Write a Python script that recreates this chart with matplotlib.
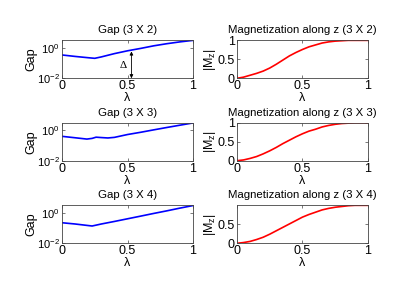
import matplotlib
matplotlib.use('Agg')
import matplotlib.pyplot as plt

plt.rcParams['font.family'] = ['Liberation Sans', 'DejaVu Sans']
plt.rcParams['mathtext.fontset'] = 'custom'
plt.rcParams['mathtext.rm'] = 'Liberation Sans'
plt.rcParams['font.size'] = 9

# lambda values where the curves were read
lam_gap2 = [0, 0.1, 0.2, 0.25, 0.3, 0.4, 0.5, 0.6, 0.7, 0.8, 0.9, 1.0]
gap2 = [0.35, 0.28, 0.23, 0.21, 0.26, 0.43, 0.66, 0.95, 1.41, 1.95, 2.57, 3.24]

lam_gap3 = [0, 0.1, 0.19, 0.23, 0.26, 0.3, 0.35, 0.4, 0.5, 0.6, 0.7, 0.8, 0.9, 1.0]
gap3 = [0.41, 0.33, 0.27, 0.30, 0.36, 0.34, 0.32, 0.35, 0.54, 0.76, 1.10, 1.58, 2.24, 3.16]

lam_gap4 = [0, 0.1, 0.2, 0.23, 0.3, 0.4, 0.5, 0.6, 0.7, 0.8, 0.9, 1.0]
gap4 = [0.23, 0.19, 0.15, 0.14, 0.19, 0.28, 0.42, 0.63, 0.95, 1.41, 2.14, 3.16]

lam_mag = [0, 0.05, 0.1, 0.15, 0.2, 0.25, 0.3, 0.35, 0.4, 0.45, 0.5, 0.55, 0.6, 0.65,
           0.7, 0.75, 0.8, 0.85, 0.9, 0.95, 1.0]
mag2 = [0, 0.03, 0.08, 0.13, 0.19, 0.27, 0.37, 0.48, 0.59, 0.68, 0.76, 0.83, 0.88, 0.93,
        0.96, 0.98, 0.99, 1.0, 1.0, 1.0, 1.0]
mag3 = [0, 0.02, 0.06, 0.11, 0.18, 0.26, 0.35, 0.45, 0.54, 0.63, 0.71, 0.78, 0.83, 0.89,
        0.93, 0.96, 0.98, 0.99, 1.0, 1.0, 1.0]
mag4 = [0, 0.02, 0.05, 0.10, 0.16, 0.24, 0.33, 0.42, 0.51, 0.60, 0.69, 0.76, 0.82, 0.88,
        0.92, 0.95, 0.97, 0.99, 1.0, 1.0, 1.0]

sizes = ['3 X 2', '3 X 3', '3 X 4']
gap_lams = [lam_gap2, lam_gap3, lam_gap4]
gaps = [gap2, gap3, gap4]
mags = [mag2, mag3, mag4]

fig = plt.figure(figsize=(4.15, 2.94), dpi=100)

bottoms = [0.7337, 0.4534, 0.1724]
h = 0.129
w = 0.3157
frame = '#444444'


def style(ax):
    for s in ax.spines.values():
        s.set_color(frame)
        s.set_linewidth(0.6)
    ax.tick_params(direction='in', length=2, width=0.5, color=frame,
                   top=True, right=True, pad=1.5, labelsize=9)
    ax.set_xlim(0, 1)
    ax.set_xticks([0, 0.5, 1])
    ax.set_xticklabels(['0', '0.5', '1'])
    ax.set_xlabel('λ', labelpad=0, fontsize=9)


for i in range(3):
    axg = fig.add_axes([0.1494, bottoms[i], w, h])
    axg.semilogy(gap_lams[i], gaps[i], color='#0000ff', lw=1.2)
    axg.set_ylim(1e-2, 3.24)
    axg.set_yticks([1e-2, 1])
    axg.minorticks_off()
    axg.set_yticks([], minor=True)
    style(axg)
    axg.tick_params(axis='y', labelsize=8)
    axg.set_ylabel('Gap', labelpad=0, fontsize=9)
    axg.set_title('Gap (%s)' % sizes[i], fontsize=8.2, pad=5)

    axm = fig.add_axes([0.571, bottoms[i], w, h])
    axm.plot(lam_mag, mags[i], color='#ff0000', lw=1.2)
    if i == 2:
        axm.set_ylim(0, 0.999)
        axm.set_yticks([0, 0.5])
        axm.set_yticklabels(['0', '0.5'])
    else:
        axm.set_ylim(0, 1)
        axm.set_yticks([0, 0.5, 1])
        axm.set_yticklabels(['0', '0.5', '1'])
    style(axm)
    axm.set_ylabel(r'|M$_\mathregular{z}$|', labelpad=0, fontsize=9)
    axm.set_title('Magnetization along z (%s)' % sizes[i], fontsize=8.2, pad=5)

    if i == 0:
        axg.annotate('', xy=(0.53, 1e-2), xytext=(0.53, 0.60),
                     arrowprops=dict(arrowstyle='<|-|>', color='black', lw=0.6,
                                     mutation_scale=5, shrinkA=0, shrinkB=0))
        axg.text(0.465, 0.068, 'Δ', fontsize=8, ha='center', va='center',
                 family='Liberation Serif')

fig.savefig('out.png', dpi=100)
